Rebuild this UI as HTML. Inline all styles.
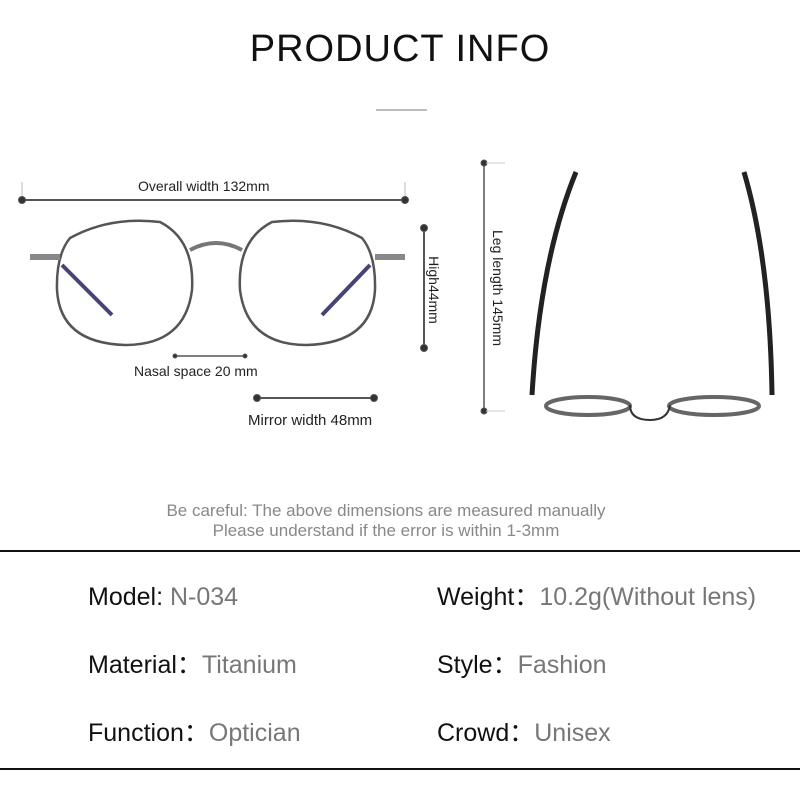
<!DOCTYPE html><html><head><meta charset="utf-8"><style>
body{margin:0;width:800px;height:800px;background:#fff;font-family:"Liberation Sans","Noto Sans CJK SC",sans-serif;position:relative;overflow:hidden}
.t{position:absolute;white-space:nowrap}
.row{position:absolute;font-size:25px;line-height:30px;height:30px;color:#111;white-space:nowrap}
.row span{color:#777}
</style></head><body>
<div class="t" style="left:0;width:800px;text-align:center;top:28px;font-size:38px;letter-spacing:1px;color:#111">PRODUCT INFO</div>
<div class="t" style="left:376px;top:109px;width:51px;height:2px;background:#bbb"></div>
<svg width="800" height="800" style="position:absolute;left:0;top:0">
<g stroke="#555" fill="#333">
<line x1="22" y1="182" x2="22" y2="196" stroke="#bbb"/><line x1="405" y1="182" x2="405" y2="196" stroke="#bbb"/>
<line x1="22" y1="200" x2="405" y2="200" stroke-width="2"/><circle cx="22" cy="200" r="3.5"/><circle cx="405" cy="200" r="3.5"/>
<line x1="424" y1="228" x2="424" y2="348" stroke-width="2"/><circle cx="424" cy="228" r="3.5"/><circle cx="424" cy="348" r="3.5"/>
<line x1="175" y1="356" x2="245" y2="356" stroke-width="1.5"/><circle cx="175" cy="356" r="2"/><circle cx="245" cy="356" r="2"/>
<line x1="257" y1="398" x2="374" y2="398" stroke-width="2"/><circle cx="257" cy="398" r="3.5"/><circle cx="374" cy="398" r="3.5"/>
<line x1="484" y1="163" x2="484" y2="411" stroke-width="1.5"/><circle cx="484" cy="163" r="3"/><circle cx="484" cy="411" r="3"/>
<line x1="486" y1="163" x2="505" y2="163" stroke="#ccc"/><line x1="486" y1="411" x2="505" y2="411" stroke="#ccc"/>
</g>
<g fill="none" stroke="#555" stroke-width="2.5">
<path d="M70 238 Q110 216 160 222 Q195 240 192 290 Q185 345 125 345 Q60 343 57 290 Q56 255 70 238Z"/>
<path d="M362 238 Q322 216 272 222 Q237 240 240 290 Q247 345 307 345 Q372 343 375 290 Q376 255 362 238Z"/>
<path d="M190 250 Q216 236 242 250" stroke-width="4" stroke="#777"/>
<path d="M30 257 L60 257" stroke-width="6" stroke="#888"/><path d="M375 257 L405 257" stroke-width="6" stroke="#888"/>
<path d="M62 265 L112 315" stroke="#447" stroke-width="4"/><path d="M370 265 L322 315" stroke="#447" stroke-width="4"/>
<path d="M576 172 Q540 260 532 395" stroke="#222" stroke-width="5"/>
<path d="M744 172 Q770 260 772 395" stroke="#222" stroke-width="5"/>
<ellipse cx="588" cy="406" rx="42" ry="9" stroke="#666" stroke-width="4"/>
<ellipse cx="714" cy="406" rx="45" ry="9" stroke="#666" stroke-width="4"/>
<path d="M630 405 Q630 420 650 420 Q668 420 670 405" stroke="#333" stroke-width="2"/>
</g>
</svg>
<div class="t" style="left:138px;top:178px;font-size:14px;color:#222">Overall width 132mm</div>
<div class="t" style="left:134px;top:363px;font-size:14px;color:#222">Nasal space 20 mm</div>
<div class="t" style="left:248px;top:412px;font-size:15px;color:#222">Mirror width 48mm</div>
<div class="t" style="left:400px;top:282px;font-size:14px;color:#222;transform:rotate(90deg);transform-origin:center">High44mm</div>
<div class="t" style="left:440px;top:280px;font-size:14px;color:#222;transform:rotate(90deg);transform-origin:center">Leg length 145mm</div>
<div class="t" style="left:0;width:772px;text-align:center;top:501px;font-size:17px;color:#888;line-height:20px">Be careful: The above dimensions are measured manually<br>Please understand if the error is within 1-3mm</div>
<div class="t" style="left:0;top:550px;width:800px;height:2px;background:#111"></div>
<div class="t" style="left:0;top:768px;width:800px;height:2px;background:#111"></div>
<div class="row" style="left:88px;top:582px">Model: <span>N-034</span></div>
<div class="row" style="left:437px;top:582px">Weight：<span>10.2g(Without lens)</span></div>
<div class="row" style="left:88px;top:650px">Material：<span>Titanium</span></div>
<div class="row" style="left:437px;top:650px">Style：<span>Fashion</span></div>
<div class="row" style="left:88px;top:718px">Function：<span>Optician</span></div>
<div class="row" style="left:437px;top:718px">Crowd：<span>Unisex</span></div>
</body></html>
